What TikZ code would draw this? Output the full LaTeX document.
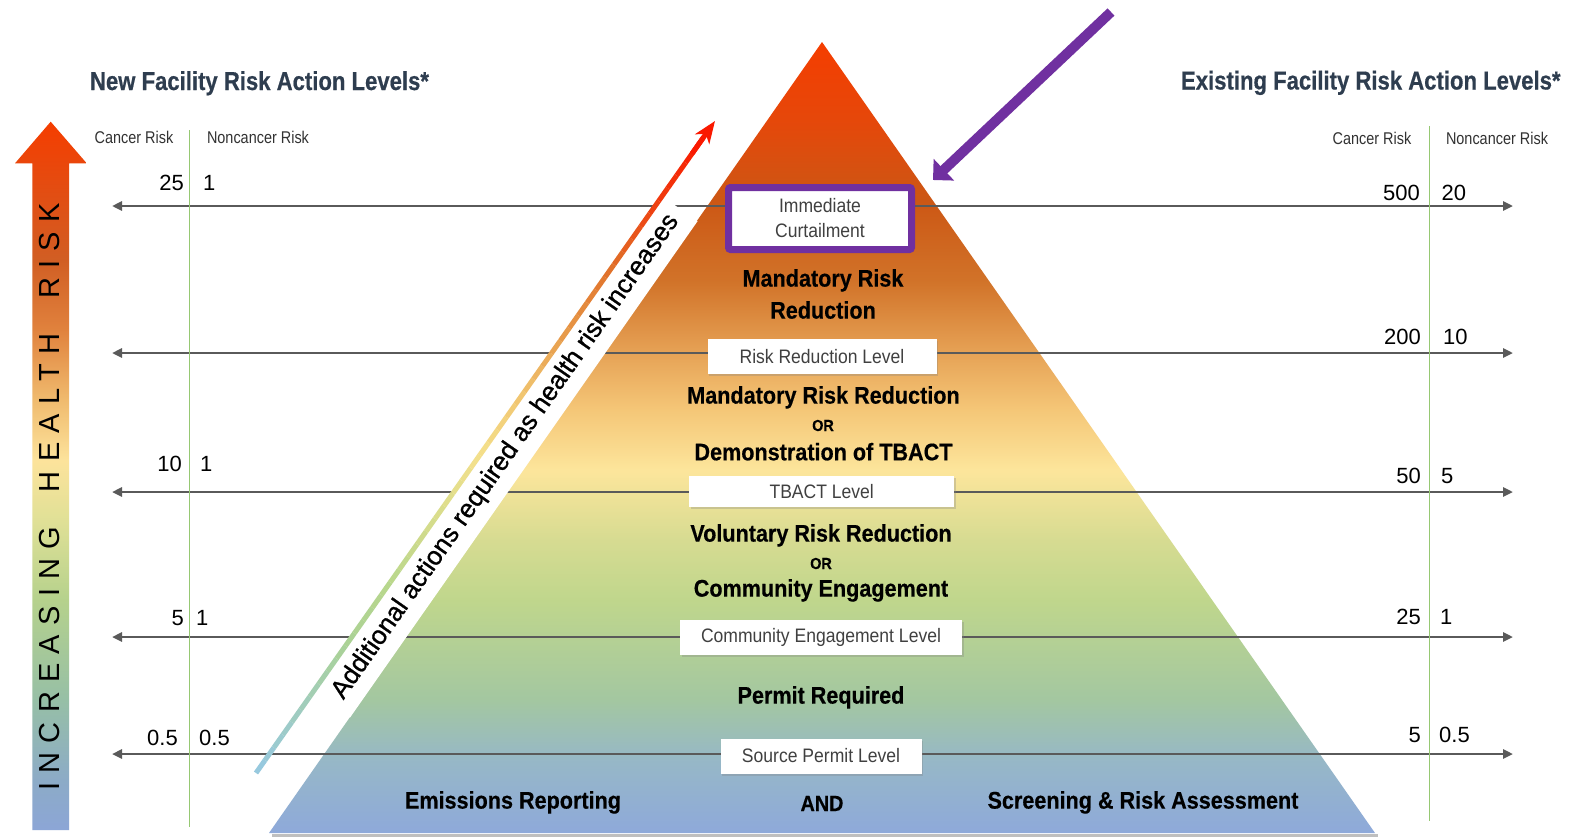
\documentclass[tikz,border=0pt]{standalone}
\usepackage{fontspec}
\setmainfont{Liberation Sans}
\newfontfamily\fA[FakeStretch=0.85, BoldFeatures={FakeBold=0.5}]{Liberation Sans}
\newfontfamily\fB[FakeStretch=0.9]{Liberation Sans}
\newfontfamily\fBb[FakeStretch=0.9, BoldFeatures={FakeBold=0.4}]{Liberation Sans}
\newfontfamily\fC[FakeStretch=0.85]{Liberation Sans}
\newfontfamily\fD[LetterSpace=32]{Liberation Sans}
\newfontfamily\fE[FakeBold=0.9]{Liberation Sans}
\usetikzlibrary{arrows.meta,shadows,calc}
\definecolor{titlecol}{RGB}{46,61,79}
\definecolor{linegray}{RGB}{90,90,90}
\definecolor{greenl}{RGB}{150,200,115}
\definecolor{purp}{RGB}{112,48,160}
\definecolor{boxtext}{RGB}{64,64,64}
\definecolor{hdrcol}{RGB}{50,50,50}
\definecolor{c0}{RGB}{150,200,225}
\definecolor{c1}{RGB}{160,205,190}
\definecolor{c2}{RGB}{170,210,150}
\definecolor{c3}{RGB}{185,215,140}
\definecolor{c4}{RGB}{215,220,140}
\definecolor{c5}{RGB}{245,225,140}
\definecolor{c6}{RGB}{240,195,110}
\definecolor{c7}{RGB}{230,150,70}
\definecolor{c8}{RGB}{225,110,40}
\definecolor{c9}{RGB}{240,60,15}
\definecolor{c10}{RGB}{250,25,0}
\pgfdeclareverticalshading{pyrshade}{100bp}{
 rgb(0bp)=(0.557,0.663,0.855);
 rgb(25bp)=(0.557,0.663,0.855);
 rgb(29.6bp)=(0.59,0.72,0.78);
 rgb(33.4bp)=(0.64,0.78,0.63);
 rgb(39.7bp)=(0.75,0.84,0.55);
 rgb(43.5bp)=(0.84,0.86,0.57);
 rgb(47.9bp)=(0.99,0.90,0.61);
 rgb(51.7bp)=(0.96,0.78,0.47);
 rgb(55.5bp)=(0.90,0.63,0.33);
 rgb(59.9bp)=(0.82,0.45,0.16);
 rgb(65bp)=(0.80,0.34,0.08);
 rgb(70.1bp)=(0.90,0.28,0.04);
 rgb(75bp)=(0.96,0.24,0);
 rgb(100bp)=(0.96,0.24,0)}
\pgfdeclareverticalshading{arrshade}{100bp}{
 rgb(0bp)=(0.55,0.65,0.84);
 rgb(25bp)=(0.55,0.65,0.84);
 rgb(28.5bp)=(0.55,0.67,0.78);
 rgb(34.2bp)=(0.59,0.75,0.65);
 rgb(41.2bp)=(0.71,0.82,0.55);
 rgb(46.9bp)=(0.88,0.88,0.59);
 rgb(51.1bp)=(0.99,0.89,0.61);
 rgb(55.4bp)=(0.94,0.73,0.43);
 rgb(60.3bp)=(0.88,0.51,0.24);
 rgb(65.2bp)=(0.82,0.37,0.14);
 rgb(69.5bp)=(0.88,0.31,0.08);
 rgb(75bp)=(0.96,0.24,0);
 rgb(100bp)=(0.96,0.24,0)}
\begin{document}
\begin{tikzpicture}[x=1pt,y=-1pt,
  hline/.style={draw=linegray, line width=2.6pt, {Triangle[length=10pt,width=9pt]}-{Triangle[length=10pt,width=9pt]}},
  gline/.style={draw=greenl, line width=1.5pt},
  title/.style={font=\fA\bfseries\fontsize{26}{30}\selectfont, text=titlecol, anchor=base, inner sep=0pt},
  body/.style={font=\fBb\bfseries\fontsize{24}{28}\selectfont, anchor=base, inner sep=0pt},
  orst/.style={font=\fBb\bfseries\fontsize{16}{20}\selectfont, anchor=base, inner sep=0pt},
  hdr/.style={font=\fC\fontsize{17}{20}\selectfont, text=hdrcol, anchor=base, inner sep=0pt},
  num/.style={font=\fontsize{22}{26}\selectfont, inner sep=0pt},
  lbox/.style={fill=white, font=\fB\fontsize{19.5}{25}\selectfont, text=boxtext, inner sep=0pt,
    drop shadow={shadow xshift=1.5pt, shadow yshift=-2pt, opacity=0.3}},
  diag/.style={font=\fE\fontsize{26}{30}\selectfont, inner sep=0pt},
]
\useasboundingbox (0,0) rectangle (1580,838);
\fill[white] (0,0) rectangle (1580,838);

% pyramid
\coordinate (apex) at (822,42);
\coordinate (bl) at (269,833);
\coordinate (br) at (1375,833);
\draw[line width=3pt, color=black!25] ($(bl)+(3,2)$) -- ($(br)+(3,2)$);
\shade[shading=pyrshade] (apex) -- (br) -- (bl) -- cycle;

% horizontal level lines
\foreach \yy [count=\n] in {206,353,492,637,754} {
  \coordinate (hl\n) at (112,\yy);
  \coordinate (hr\n) at (1513,\yy);
  \draw[hline] (hl\n) -- (hr\n);
}

% green separators
\coordinate (gla) at (189.3,130); \coordinate (glb) at (189.3,827);
\coordinate (gra) at (1429.3,126); \coordinate (grb) at (1429.3,821);
\draw[gline] (gla) -- (glb);
\draw[gline] (gra) -- (grb);

% diagonal band and text
\node[fill=white, rotate=55, minimum width=606pt, minimum height=44pt, inner sep=0pt] (band) at (505.8,456.7) {};
\node[diag, rotate=55] (diagtext) at (band.center) {Additional actions required as health risk increases};

% diagonal gradient arrow
\coordinate (da) at (256,773);
\coordinate (db) at (715,121);
\foreach \ca/\cb [count=\k from 0] in {c0/c1,c1/c2,c2/c3,c3/c4,c4/c5,c5/c6,c6/c7,c7/c8,c8/c9,c9/c10} {
  \foreach \j in {0,...,4} {
    \pgfmathsetmacro\pa{(\k*5+\j)/50*0.975}
    \pgfmathsetmacro\pb{(\k*5+\j+1)/50*0.975}
    \pgfmathtruncatemacro\pct{90-\j*20}
    \draw[line width=5pt, color=\ca!\pct!\cb] ($(da)!\pa!(db)$) -- ($(da)!\pb!(db)$);
  }
}
\draw[line width=5pt, color=c10, -{Stealth[length=22pt,width=17pt,inset=6pt]}] ($(da)!0.95!(db)$) -- (db);

% level boxes
\node[lbox, draw=purp, line width=7pt, rounded corners=2pt, minimum width=183pt, minimum height=62pt, align=center] (ic) at (820,218.5) {Immediate\\Curtailment};
\node[lbox, minimum width=229pt, minimum height=35pt] (rrl) at (822,356.7) {Risk Reduction Level};
\node[lbox, minimum width=265pt, minimum height=31pt] (tbl) at (821.7,491.7) {TBACT Level};
\node[lbox, minimum width=282pt, minimum height=35pt] (cel) at (821,637.4) {Community Engagement Level};
\node[lbox, minimum width=201pt, minimum height=35pt] (spl) at (821,756) {Source Permit Level};

% zone texts
\node[body] (mrr1) at (823,286.6) {Mandatory Risk};
\node[body] (mrr2) at (823,318.6) {Reduction};
\node[body] (mrr3) at (823.5,403.6) {Mandatory Risk Reduction};
\node[orst] (or1) at (823,431) {OR};
\node[body] (dtb) at (823.5,460.3) {Demonstration of TBACT};
\node[body] (vrr) at (821,541.6) {Voluntary Risk Reduction};
\node[orst] (or2) at (821,569) {OR};
\node[body] (ce) at (821,596.6) {Community Engagement};
\node[body] (pr) at (821,703.6) {Permit Required};
\node[body] (er) at (513,808.6) {Emissions Reporting};
\node[body, font=\fBb\bfseries\fontsize{22}{26}\selectfont] (and) at (822,811) {AND};
\node[body] (sra) at (1143,808.6) {Screening \& Risk Assessment};

% purple pointer arrow
\coordinate (pa1) at (1111,12);
\coordinate (pa2) at (933,180);
\draw[line width=10pt, purp, -{Triangle[length=15pt,width=29pt]}] (pa1) -- (pa2);

% left increasing health risk arrow
\shade[shading=arrshade] (32.3,830) -- (32.3,163.3) -- (15,163.3) -- (50.7,121.7) -- (86.7,163.3) -- (69,163.3) -- (69,830) -- cycle;
\node[font=\fD\fontsize{29}{32}\selectfont, rotate=90, inner sep=0pt] (ihr) at (49.5,497) {INCREASING\ \ HEALTH\ \ RISK};

% titles
\node[title] (tnew) at (259.5,90) {New Facility Risk Action Levels*};
\node[title] (texist) at (1370.8,89.5) {Existing Facility Risk Action Levels*};

% column headers
\node[hdr] (lcr) at (134,143) {Cancer Risk};
\node[hdr] (lnr) at (258,143) {Noncancer Risk};
\node[hdr] (rcr) at (1372,144) {Cancer Risk};
\node[hdr] (rnr) at (1497,144) {Noncancer Risk};

% left values
\node[num, anchor=base east] (l1c) at (184,190.6) {25};
\node[num, anchor=base west] (l1n) at (203,190.6) {1};
\node[num, anchor=base east] (l2c) at (182,471.9) {10};
\node[num, anchor=base west] (l2n) at (200,471.9) {1};
\node[num, anchor=base east] (l3c) at (184,625.2) {5};
\node[num, anchor=base west] (l3n) at (196,625.2) {1};
\node[num, anchor=base east] (l4c) at (178,745.2) {0.5};
\node[num, anchor=base west] (l4n) at (199,745.2) {0.5};

% right values
\node[num, anchor=base east] (r1c) at (1420,200.9) {500};
\node[num, anchor=base west] (r1n) at (1441.5,200.9) {20};
\node[num, anchor=base east] (r2c) at (1421,344.5) {200};
\node[num, anchor=base west] (r2n) at (1443,344.5) {10};
\node[num, anchor=base east] (r3c) at (1421,483.5) {50};
\node[num, anchor=base west] (r3n) at (1441,483.5) {5};
\node[num, anchor=base east] (r4c) at (1421,624.6) {25};
\node[num, anchor=base west] (r4n) at (1440,624.6) {1};
\node[num, anchor=base east] (r5c) at (1421,742.5) {5};
\node[num, anchor=base west] (r5n) at (1439,742.5) {0.5};
\end{tikzpicture}
\end{document}
